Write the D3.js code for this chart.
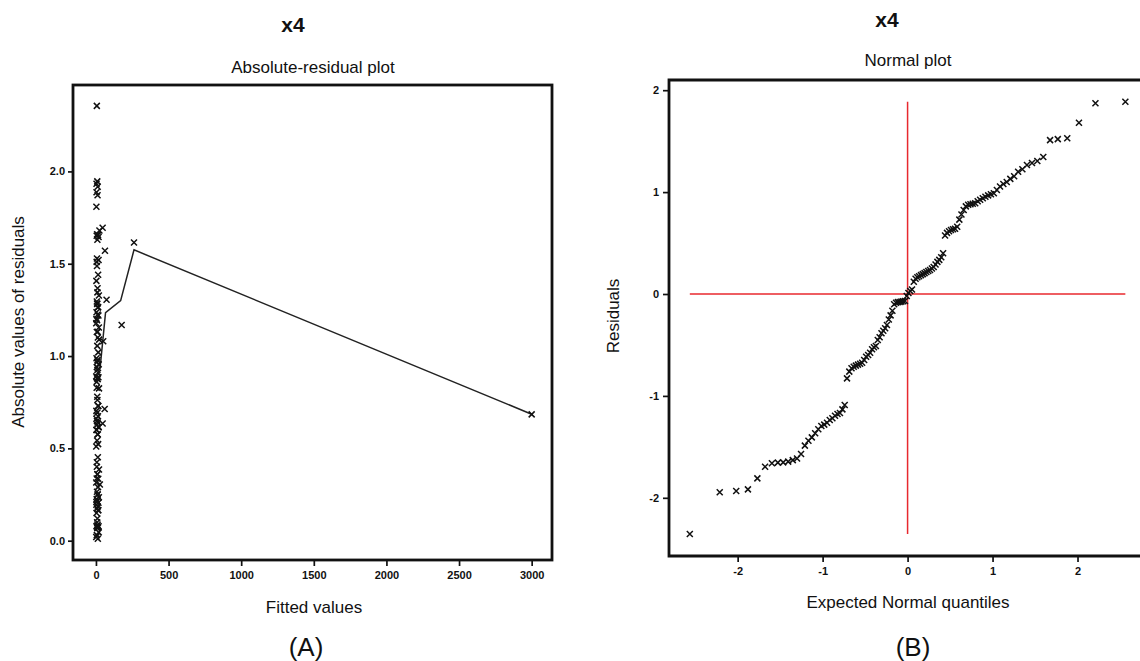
<!DOCTYPE html>
<html><head><meta charset="utf-8">
<script src="https://cdn.jsdelivr.net/npm/d3@7"></script>
<style>
html,body{margin:0;padding:0;background:#fff;}
svg{display:block;}
text{font-family:"Liberation Sans",Arial,sans-serif;fill:#111;}
</style></head>
<body>
<svg id="chart" width="1140" height="661"></svg>
<script>
// ---- Data ----
// Sorted residuals (normal plot, panel B)
const residuals = [
 -2.355,-1.946,-1.933,-1.917,-1.809,-1.695,-1.66,-1.655,-1.652,-1.645,
 -1.63,-1.615,-1.57,-1.488,-1.44,-1.407,-1.367,-1.328,-1.295,-1.282,
 -1.263,-1.237,-1.22,-1.194,-1.178,-1.168,-1.132,-1.089,-0.828,-0.762,
 -0.729,-0.713,-0.703,-0.693,-0.684,-0.674,-0.648,-0.615,-0.599,-0.576,
 -0.543,-0.523,-0.51,-0.452,-0.425,-0.386,-0.36,-0.337,-0.304,-0.25,
 -0.21,-0.165,-0.10,-0.085,-0.08,-0.078,-0.075,-0.072,-0.068,-0.02,
 0.01,0.03,0.045,0.12,0.15,0.165,0.175,0.185,0.195,0.205,
 0.215,0.225,0.235,0.25,0.265,0.29,0.315,0.335,0.36,0.40,
 0.575,0.60,0.615,0.628,0.635,0.64,0.66,0.73,0.78,0.825,
 0.86,0.875,0.88,0.885,0.89,0.91,0.925,0.94,0.955,0.968,
 0.978,0.988,1.02,1.055,1.08,1.10,1.13,1.155,1.20,1.225,
 1.265,1.285,1.305,1.345,1.51,1.52,1.528,1.68,1.871,1.887
];
// Expected normal quantiles for each ranked residual
const quantiles = [
 -2.563,-2.211,-2.017,-1.879,-1.768,-1.677,-1.597,-1.527,-1.464,-1.405,
 -1.351,-1.301,-1.254,-1.209,-1.167,-1.127,-1.088,-1.051,-1.015,-0.981,
 -0.948,-0.916,-0.885,-0.854,-0.825,-0.796,-0.767,-0.740,-0.713,-0.686,
 -0.660,-0.634,-0.609,-0.584,-0.559,-0.535,-0.511,-0.488,-0.464,-0.441,
 -0.418,-0.396,-0.373,-0.351,-0.329,-0.307,-0.286,-0.264,-0.243,-0.221,
 -0.200,-0.179,-0.158,-0.136,-0.115,-0.094,-0.073,-0.052,-0.031,-0.010,
 0.010,0.031,0.052,0.073,0.094,0.115,0.136,0.158,0.179,0.200,
 0.221,0.243,0.264,0.286,0.307,0.329,0.351,0.373,0.396,0.418,
 0.441,0.464,0.488,0.511,0.535,0.559,0.584,0.609,0.634,0.660,
 0.686,0.713,0.740,0.767,0.796,0.825,0.854,0.885,0.916,0.948,
 0.981,1.015,1.051,1.088,1.127,1.167,1.209,1.254,1.301,1.351,
 1.405,1.464,1.527,1.597,1.677,1.768,1.879,2.017,2.211,2.563
];
// Fitted values for each residual (panel A x)
const fittedValues = [
 6,9,4,12,3,46,8,14,5,18,
 10,262,62,7,15,3,11,20,6,9,
 13,4,17,8,2,177,12,22,5,10,
 16,60,3,9,3000,14,7,19,4,11,
 8,15,2,13,6,21,10,5,27,12,
 3,16,8,11,4,18,7,14,9,2,
 13,6,19,10,4,15,8,12,3,17,
 9,5,20,11,7,14,2,16,10,6,
 13,4,18,8,46,11,3,15,9,21,
 5,12,7,17,2,14,10,6,19,8,
 11,4,16,9,50,13,6,20,3,12,
 15,8,73,10,5,18,7,24,11,4
];
// Smoothed (lowess) curve in panel A
const smoothX = [28, 66, 170, 262, 3000];
const smoothY = [0.93, 1.235, 1.30, 1.575, 0.685];
// Tick values
const ticksAX = [0, 500, 1000, 1500, 2000, 2500, 3000];
const ticksAY = [0, 0.5, 1.0, 1.5, 2.0];
const ticksBX = [-2, -1, 0, 1, 2];
const ticksBY = [-2, -1, 0, 1, 2];

const absResiduals = residuals.map(Math.abs);

const svg = d3.select("#chart");
const crossPath = "M-3,-3L3,3M-3,3L3,-3";

function styleAxis(g){
  g.select(".domain").remove();
  g.selectAll("line").attr("stroke","#111").attr("stroke-width",1.7);
  g.selectAll("text").attr("font-size",11).attr("font-weight","bold")
    .attr("font-family","Liberation Sans, Arial, sans-serif").attr("fill","#111");
}

// ---------------- Panel A ----------------
const A = {left:73, right:552, top:85, bottom:560};
const xA = d3.scaleLinear().domain([-158, 3140]).range([A.left, A.right]);
const yA = d3.scaleLinear().domain([-0.1046, 2.468]).range([A.bottom, A.top]);

const gA = svg.append("g");
gA.append("g").attr("transform",`translate(0,${A.bottom})`)
  .call(d3.axisBottom(xA).tickValues(ticksAX).tickSize(6).tickPadding(5).tickFormat(d=>String(d)))
  .call(styleAxis);
gA.append("g").attr("transform",`translate(${A.left},0)`)
  .call(d3.axisLeft(yA).tickValues(ticksAY).tickSize(5).tickPadding(3).tickFormat(d3.format(".1f")))
  .call(styleAxis);

gA.append("rect").attr("x",A.left).attr("y",A.top)
  .attr("width",A.right-A.left).attr("height",A.bottom-A.top)
  .attr("fill","none").attr("stroke","#111").attr("stroke-width",2.8);

const lineA = d3.line().x(d=>xA(d[0])).y(d=>yA(d[1]));
gA.append("path").datum(smoothX.map((x,i)=>[x,smoothY[i]]))
  .attr("d",lineA).attr("fill","none").attr("stroke","#222").attr("stroke-width",1.5);

gA.append("g").selectAll("path").data(fittedValues.map((f,i)=>[f,absResiduals[i]]))
  .join("path").attr("d",crossPath)
  .attr("transform",d=>`translate(${xA(d[0])},${yA(d[1])})`)
  .attr("stroke","#111").attr("stroke-width",1.5).attr("fill","none");

gA.append("text").attr("x",293).attr("y",32).attr("text-anchor","middle")
  .attr("font-size",21).attr("font-weight","bold").text("x4");
gA.append("text").attr("x",313).attr("y",73).attr("text-anchor","middle")
  .attr("font-size",17).text("Absolute-residual plot");
gA.append("text").attr("x",314).attr("y",613).attr("text-anchor","middle")
  .attr("font-size",17).text("Fitted values");
gA.append("text").attr("transform","translate(24,322) rotate(-90)").attr("text-anchor","middle")
  .attr("font-size",17).text("Absolute values of residuals");
gA.append("text").attr("x",306).attr("y",656).attr("text-anchor","middle")
  .attr("font-size",26).attr("font-family","Open Sans, Noto Sans, sans-serif").text("(A)");

// ---------------- Panel B ----------------
const B = {left:669, right:1146, top:80, bottom:556};
const xB = d3.scaleLinear().domain([-2.808, 2.806]).range([B.left, B.right]);
const yB = d3.scaleLinear().domain([-2.571, 2.1]).range([B.bottom, B.top]);

const gB = svg.append("g");
gB.append("g").attr("transform",`translate(0,${B.bottom})`)
  .call(d3.axisBottom(xB).tickValues(ticksBX).tickSize(6).tickPadding(5).tickFormat(d=>String(d)))
  .call(styleAxis);
gB.append("g").attr("transform",`translate(${B.left},0)`)
  .call(d3.axisLeft(yB).tickValues(ticksBY).tickSize(6).tickPadding(4).tickFormat(d=>String(d)))
  .call(styleAxis);

gB.append("path")
  .attr("d",`M${B.right},${B.top}H${B.left}V${B.bottom}H${B.right}`)
  .attr("fill","none").attr("stroke","#111").attr("stroke-width",2.8);

// reference lines
const red = "#e8282e";
gB.append("line")
  .attr("x1",xB(d3.min(quantiles))).attr("x2",xB(d3.max(quantiles)))
  .attr("y1",yB(0)).attr("y2",yB(0)).attr("stroke",red).attr("stroke-width",1.5);
gB.append("line")
  .attr("x1",xB(0)).attr("x2",xB(0))
  .attr("y1",yB(d3.max(residuals))).attr("y2",yB(d3.min(residuals))).attr("stroke",red).attr("stroke-width",1.5);

gB.append("g").selectAll("path").data(quantiles.map((q,i)=>[q,residuals[i]]))
  .join("path").attr("d",crossPath)
  .attr("transform",d=>`translate(${xB(d[0])},${yB(d[1])})`)
  .attr("stroke","#111").attr("stroke-width",1.5).attr("fill","none");

gB.append("text").attr("x",887).attr("y",27).attr("text-anchor","middle")
  .attr("font-size",21).attr("font-weight","bold").text("x4");
gB.append("text").attr("x",908).attr("y",66).attr("text-anchor","middle")
  .attr("font-size",17).text("Normal plot");
gB.append("text").attr("x",908).attr("y",608).attr("text-anchor","middle")
  .attr("font-size",17).text("Expected Normal quantiles");
gB.append("text").attr("transform","translate(619,316) rotate(-90)").attr("text-anchor","middle")
  .attr("font-size",17).text("Residuals");
gB.append("text").attr("x",913).attr("y",656).attr("text-anchor","middle")
  .attr("font-size",26).attr("font-family","Open Sans, Noto Sans, sans-serif").text("(B)");
</script>
</body></html>
